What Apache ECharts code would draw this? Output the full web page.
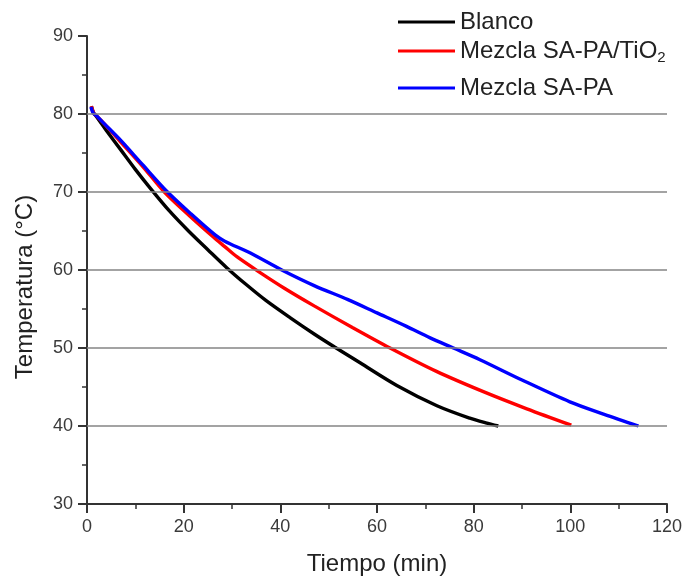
<!DOCTYPE html>
<html><head><meta charset="utf-8">
<script src="https://cdn.jsdelivr.net/npm/echarts@6/dist/echarts.min.js"></script>
<style>html,body{margin:0;padding:0;background:#fff}#c{width:686px;height:581px}</style>
</head><body><div id="c"></div>
<script>
// Time (min) and temperature (°C)
const blancoTime = [0.9, 1.4, 1.9, 4, 7, 10, 13.2, 17, 21, 25, 28.9, 33, 37, 42, 47, 51.3, 56.5, 64.1, 72.4, 79.2, 82.5, 85.1];
const blancoTemp = [81.0, 80.1, 79.7, 77.9, 75.4, 72.9, 70.4, 67.6, 65.0, 62.6, 60.3, 58.1, 56.1, 53.9, 51.8, 50.1, 48.1, 45.2, 42.6, 41.0, 40.4, 40.0];

const tioTime = [0.9, 1.4, 1.9, 3.5, 6.7, 11.5, 16.0, 21.3, 26.2, 28.5, 31, 35.5, 41, 47, 55, 62.7, 72.3, 82, 91, 100.2];
const tioTemp = [81.0, 80.1, 79.8, 78.8, 76.6, 73.3, 70.0, 66.9, 64.2, 63.0, 61.7, 59.8, 57.6, 55.4, 52.6, 50.0, 47.0, 44.4, 42.2, 40.1];

const sapaTime = [0.8, 1.3, 1.9, 3.5, 6.7, 11.5, 16.5, 21.5, 26.5, 28.5, 33.7, 40.3, 47, 54, 60, 66, 71, 75.8, 81.3, 90, 99.9, 107, 114.1];
const sapaTemp = [80.9, 80.1, 79.8, 78.8, 76.8, 73.5, 70.1, 67.2, 64.5, 63.7, 62.2, 60.0, 58.0, 56.2, 54.5, 52.8, 51.3, 50.0, 48.5, 45.9, 43.1, 41.5, 40.0];

const gridLevels = [40, 50, 60, 70, 80];
const seriesNames = ['Blanco', 'Mezcla SA-PA/TiO2', 'Mezcla SA-PA'];
const seriesColors = ['#000000', '#ff0000', '#0000ff'];

const FONT = '"Liberation Sans", Arial, sans-serif';
const pair = (xs, ys) => xs.map((x, i) => [x, ys[i]]);

const chart = echarts.init(document.getElementById('c'));

function legendAt(name, top) {
  return {
    data: [name],
    orient: 'vertical',
    left: 398,
    top: top,
    padding: 0,
    icon: 'rect',
    itemWidth: 57,
    itemHeight: 3,
    selectedMode: false,
    textStyle: {
      fontFamily: FONT, fontSize: 24, color: '#222',
      rich: { s: { fontFamily: FONT, fontSize: 15, color: '#222', padding: [14, 0, 0, 0] } }
    },
    formatter: n => n === 'Mezcla SA-PA/TiO2' ? 'Mezcla SA-PA/TiO{s|2}' : n
  };
}

const axisCommon = {
  type: 'value',
  axisLine: { show: true, onZero: false, lineStyle: { color: '#333', width: 2 } },
  axisTick: { show: true, length: 9, lineStyle: { color: '#333', width: 2 } },
  minorTick: { show: true, splitNumber: 2, length: 5, lineStyle: { color: '#333', width: 1.5 } },
  splitLine: { show: false },
  axisLabel: { fontFamily: FONT, fontSize: 18, color: '#3a3a3a', margin: 14 },
  nameLocation: 'middle',
  nameTextStyle: { fontFamily: FONT, fontSize: 24, color: '#222' }
};

chart.setOption({
  animation: false,
  backgroundColor: '#fff',
  grid: { left: 87, right: 19, top: 36, bottom: 77, containLabel: false },
  legend: [legendAt(seriesNames[0], 10), legendAt(seriesNames[1], 39), legendAt(seriesNames[2], 76)],
  xAxis: Object.assign({}, axisCommon, {
    min: 0, max: 120, interval: 20,
    name: 'Tiempo (min)', nameGap: 48
  }),
  yAxis: Object.assign({}, axisCommon, {
    min: 30, max: 90, interval: 10,
    name: 'Temperatura (°C)', nameGap: 50,
    nameTextStyle: { fontFamily: FONT, fontSize: 24, color: '#222', padding: [0, 34, 0, 0] }
  }),
  series: [
    {
      type: 'line', name: '_grid', data: [], z: 1, silent: true,
      markLine: {
        silent: true, symbol: 'none', animation: false,
        label: { show: false },
        lineStyle: { color: '#858585', width: 1.6, type: 'solid' },
        data: gridLevels.map(v => ({ yAxis: v }))
      }
    },
    { type: 'line', name: seriesNames[0], data: pair(blancoTime, blancoTemp), symbol: 'none', smooth: 0.3, z: 3,
      lineStyle: { color: seriesColors[0], width: 3.4 }, itemStyle: { color: seriesColors[0] } },
    { type: 'line', name: seriesNames[1], data: pair(tioTime, tioTemp), symbol: 'none', smooth: 0.3, z: 3,
      lineStyle: { color: seriesColors[1], width: 3.4 }, itemStyle: { color: seriesColors[1] } },
    { type: 'line', name: seriesNames[2], data: pair(sapaTime, sapaTemp), symbol: 'none', smooth: 0.3, z: 4,
      lineStyle: { color: seriesColors[2], width: 3.4 }, itemStyle: { color: seriesColors[2] } }
  ]
});
</script>
</body></html>
